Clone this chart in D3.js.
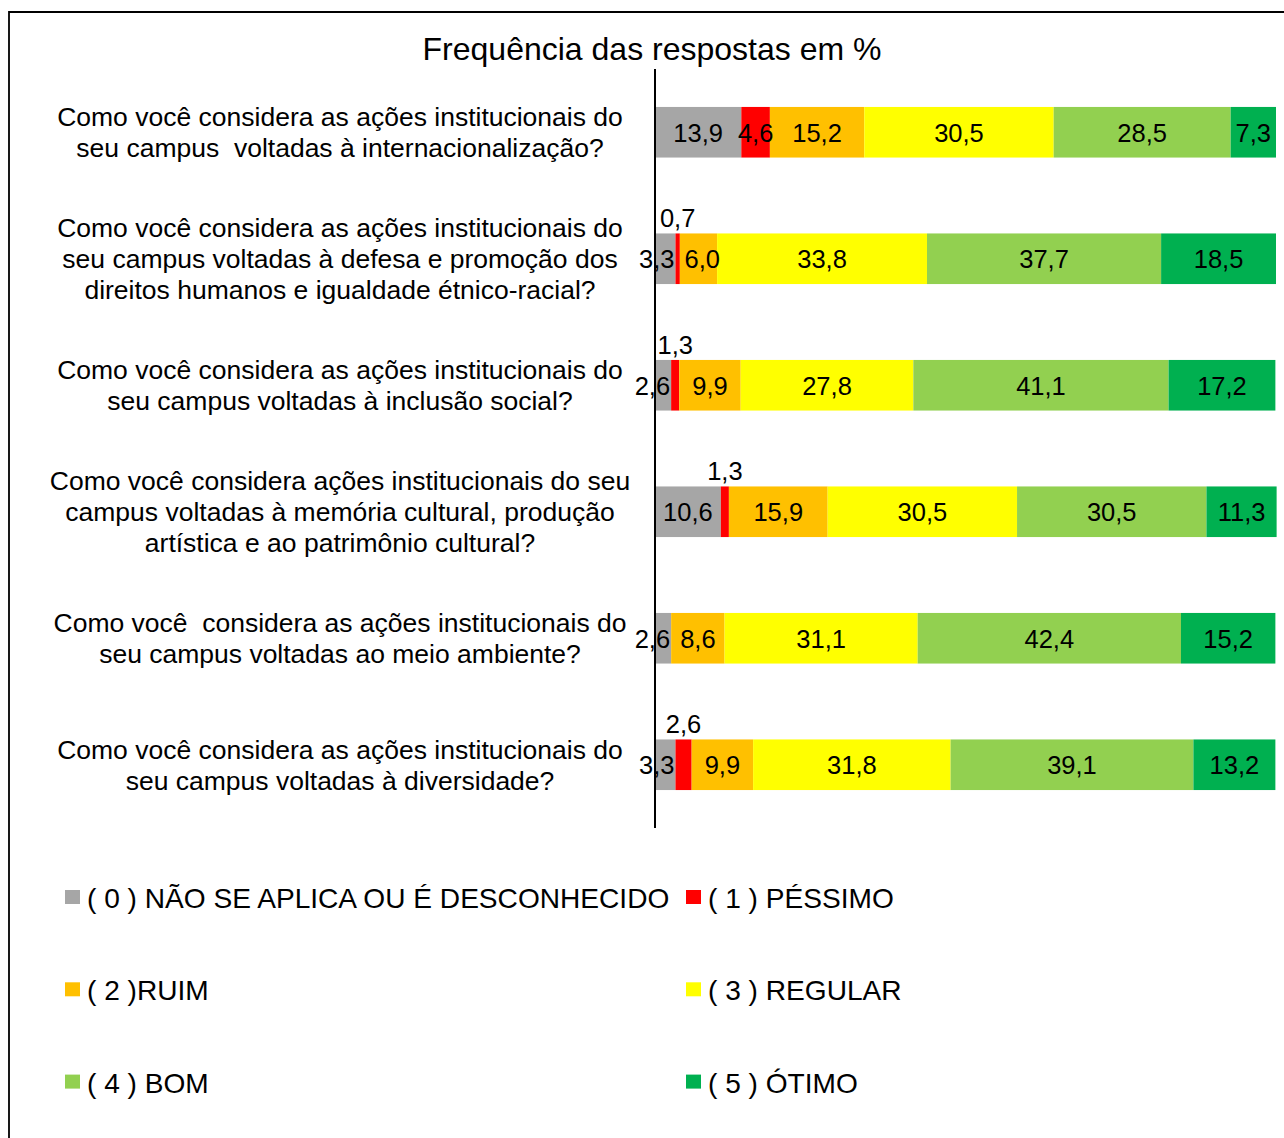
<!DOCTYPE html>
<html>
<head>
<meta charset="utf-8">
<script src="https://cdn.jsdelivr.net/npm/d3@7"></script>
<style>
body{margin:0;background:#fff;}
text{font-family:"Liberation Sans",Arial,sans-serif;fill:#000;white-space:pre;}
</style>
</head>
<body>
<div id="chart"></div>
<script>
// question labels, already wrapped like in the original
var questions = [
  ["Como você considera as ações institucionais do", "seu campus  voltadas à internacionalização?"],
  ["Como você considera as ações institucionais do", "seu campus voltadas à defesa e promoção dos", "direitos humanos e igualdade étnico-racial?"],
  ["Como você considera as ações institucionais do", "seu campus voltadas à inclusão social?"],
  ["Como você considera ações institucionais do seu", "campus voltadas à memória cultural, produção", "artística e ao patrimônio cultural?"],
  ["Como você  considera as ações institucionais do", "seu campus voltadas ao meio ambiente?"],
  ["Como você considera as ações institucionais do", "seu campus voltadas à diversidade?"]
];

// percentages per answer
var naoSeAplica = [13.9, 3.3, 2.6, 10.6, 2.6, 3.3];
var pessimo     = [4.6, 0.7, 1.3, 1.3, 0, 2.6];
var ruim        = [15.2, 6.0, 9.9, 15.9, 8.6, 9.9];
var regular     = [30.5, 33.8, 27.8, 30.5, 31.1, 31.8];
var bom         = [28.5, 37.7, 41.1, 30.5, 42.4, 39.1];
var otimo       = [7.3, 18.5, 17.2, 11.3, 15.2, 13.2];

var seriesNames = ["( 0 ) NÃO SE APLICA OU É DESCONHECIDO", "( 1 ) PÉSSIMO", "( 2 )RUIM", "( 3 ) REGULAR", "( 4 ) BOM", "( 5 ) ÓTIMO"];
var seriesColors = ["#a6a6a6", "#ff0000", "#ffc000", "#ffff00", "#92d050", "#00b050"];

var chartTitle = "Frequência das respostas em %";

function init(){
  var width = 1284, height = 1138;
  var svg = d3.select("#chart").append("svg")
      .attr("width", width)
      .attr("height", height);

  // outer frame (only left and top visible)
  svg.append("path")
      .attr("d", "M9," + height + "V12H" + width)
      .attr("fill", "none")
      .attr("stroke", "#000")
      .attr("stroke-width", 1.8);

  svg.append("text")
      .attr("x", 652)
      .attr("y", 60)
      .attr("text-anchor", "middle")
      .attr("font-size", 32)
      .text(chartTitle);

  var keys = ["s0", "s1", "s2", "s3", "s4", "s5"];
  var all = [naoSeAplica, pessimo, ruim, regular, bom, otimo];
  var rows = questions.map(function(q, i){
    var r = {id: i};
    keys.forEach(function(k, j){ r[k] = all[j][i]; });
    return r;
  });

  var x = d3.scaleLinear().domain([0, 100]).range([655, 1276]);
  var y = d3.scaleBand()
      .domain(rows.map(function(d){ return d.id; }))
      .range([69, 828])
      .paddingInner(0.6)
      .paddingOuter(0.3);

  var stack = d3.stack().keys(keys)(rows);
  var fmt = function(v){ return d3.format(".1f")(v).replace(".", ","); };

  var groups = svg.append("g").selectAll("g")
      .data(stack)
      .enter().append("g")
        .attr("fill", function(d, i){ return seriesColors[i]; });

  groups.selectAll("rect")
      .data(function(d){ return d; })
      .enter().append("rect")
        .attr("x", function(d){ return x(d[0]); })
        .attr("width", function(d){ return x(d[1]) - x(d[0]); })
        .attr("y", function(d){ return y(d.data.id); })
        .attr("height", y.bandwidth());

  // value labels: tiny "péssimo" values go above the bar,
  // a first label wider than its segment ends at the segment end,
  // the others sit centred and get pushed right if they collide
  var labels = svg.append("g");
  rows.forEach(function(r, ri){
    var prevRight = -1e9;
    stack.forEach(function(s, si){
      var d = s[ri];
      var val = r[s.key];
      if (val <= 0) return;
      var x0 = x(d[0]), x1 = x(d[1]);
      var cx = (x0 + x1) / 2;
      var t = labels.append("text")
          .attr("font-size", 25.5)
          .text(fmt(val));
      var w = t.node().getComputedTextLength();
      if (s.key === "s1" && val < 3) {
        t.attr("x", cx - w / 2).attr("y", y(r.id) - 6);
        return;
      }
      var left = cx - w / 2;
      if (si === 0 && w > x1 - x0) left = x1 - w - 1;
      if (left < prevRight + 10) left = prevRight + 10;
      t.attr("x", left).attr("y", y(r.id) + y.bandwidth() / 2 + 9.5);
      prevRight = left + w;
    });
  });

  // vertical axis line
  svg.append("line")
      .attr("x1", 655).attr("x2", 655)
      .attr("y1", 69).attr("y2", 828)
      .attr("stroke", "#000")
      .attr("stroke-width", 2);

  // question labels
  var qText = svg.append("g").selectAll("text")
      .data(rows)
      .enter().append("text")
        .attr("text-anchor", "middle")
        .attr("font-size", 26.5);
  qText.each(function(d){
    var lines = questions[d.id];
    var mid = y(d.id) + y.bandwidth() / 2;
    var lh = 31;
    var top = mid - (lines.length - 1) * lh / 2 + 9.5;
    d3.select(this).selectAll("tspan")
        .data(lines)
        .enter().append("tspan")
          .attr("x", 340)
          .attr("y", function(l, i){ return top + i * lh; })
          .text(function(l){ return l; });
  });

  // legend, two columns
  var legend = svg.append("g").selectAll("g")
      .data(seriesNames)
      .enter().append("g")
        .attr("transform", function(d, i){
          return "translate(" + (i % 2 === 0 ? 65 : 686) + "," + (898 + Math.floor(i / 2) * 92.3) + ")";
        });
  legend.append("rect")
      .attr("x", 0).attr("y", -8)
      .attr("width", 15).attr("height", 14)
      .attr("fill", function(d, i){ return seriesColors[i]; });
  legend.append("text")
      .attr("x", 22)
      .attr("y", 10)
      .attr("font-size", 28.1)
      .text(function(d){ return d; });
}

init();
</script>
</body>
</html>
